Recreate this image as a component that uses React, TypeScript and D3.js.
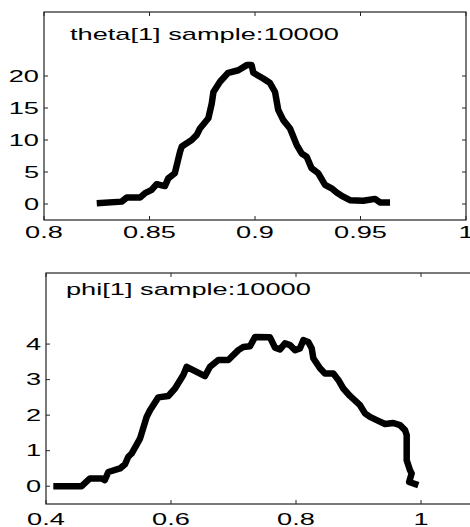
import React from "react";
import * as d3 from "d3";

const thetaX = [0.825,0.8368,0.8392,0.8455,0.8479,0.851,0.8534,0.8573,0.8589,0.862,0.8645,0.8653,0.870,0.8724,0.8739,0.8779,0.8795,0.8803,0.8834,0.8873,0.8921,0.8961,0.8984,0.8992,0.9039,0.9071,0.9095,0.911,0.9134,0.9166,0.9198,0.9221,0.9245,0.9268,0.93,0.9332,0.9363,0.9387,0.9418,0.945,0.9513,0.9569,0.9592,0.964];
const thetaY = [0.1,0.37,1.0,1.0,1.7,2.2,3.1,2.8,4.0,4.8,8.2,9.0,10.0,10.8,11.8,13.4,15.7,17.5,19.1,20.5,20.9,21.7,21.7,20.5,19.6,18.9,17.5,14.7,13.1,11.8,9.2,7.9,7.4,5.6,4.8,3.0,2.45,1.8,1.15,0.6,0.5,0.8,0.25,0.25];

const phiX = [0.4117,0.457,0.4704,0.489,0.494,0.4997,0.5184,0.5264,0.5317,0.537,0.5504,0.561,0.5664,0.5797,0.5957,0.6064,0.6197,0.6251,0.6544,0.6624,0.6757,0.6917,0.7077,0.7157,0.7264,0.7344,0.7584,0.7664,0.7744,0.7824,0.7904,0.7984,0.8064,0.8117,0.8197,0.8251,0.8277,0.8384,0.8464,0.8597,0.8677,0.8757,0.8864,0.9024,0.9104,0.9184,0.9291,0.9424,0.9557,0.9664,0.9744,0.9771,0.9771,0.9824,0.9851,0.981,0.9957];
const phiY = [0,0,0.22,0.22,0.17,0.4,0.5,0.62,0.83,0.92,1.34,1.95,2.14,2.5,2.54,2.75,3.13,3.36,3.1,3.36,3.55,3.55,3.83,3.92,3.94,4.2,4.19,3.9,3.85,4.02,3.97,3.83,3.88,4.11,4.06,3.88,3.6,3.32,3.17,3.17,2.99,2.75,2.54,2.28,2.05,1.95,1.86,1.75,1.78,1.72,1.58,1.44,0.73,0.45,0.36,0.12,0.03];

const thetaXTicks = [0.8, 0.85, 0.9, 0.95, 1];
const thetaXTickLabels = ["0.8", "0.85", "0.9", "0.95", "1"];
const thetaYTicks = [0, 5, 10, 15, 20];
const phiXTicks = [0.4, 0.6, 0.8, 1];
const phiXTickLabels = ["0.4", "0.6", "0.8", "1"];
const phiYTicks = [0, 1, 2, 3, 4];

const thetaTitle = "theta[1] sample:10000";
const phiTitle = "phi[1] sample:10000";

const SX = 1.7;
const FONT = "'Liberation Sans', Arial, Helvetica, sans-serif";

type PanelProps = {
  left: number; right: number; top: number; bottom: number;
  xDomain: [number, number]; yDomain: [number, number];
  xs: number[]; ys: number[];
  xTicks: number[]; xTickLabels: string[]; yTicks: number[];
  title: string; titleX: number; titleY: number; xLabelOffset: number;
};

function Panel(p: PanelProps) {
  const x = d3.scaleLinear().domain(p.xDomain).range([p.left, p.right]);
  const y = d3.scaleLinear().domain(p.yDomain).range([p.bottom, p.top]);
  const pts = p.xs.map((v, i) => [v, p.ys[i]] as [number, number]);
  const line = d3.line<[number, number]>().x(d => x(d[0])).y(d => y(d[1]));
  const tl = 4;
  const frame = "#222";
  return (
    <g>
      <path d={line(pts) || ""} fill="none" stroke="#000" strokeWidth={6.5} strokeLinejoin="round" strokeLinecap="butt" />
      <rect x={p.left} y={p.top} width={p.right - p.left} height={p.bottom - p.top} fill="none" stroke={frame} strokeWidth={1.2} />
      {p.xTicks.map((t, i) => (
        <g key={"xt" + i}>
          <line x1={x(t)} x2={x(t)} y1={p.bottom} y2={p.bottom - tl} stroke={frame} strokeWidth={1} />
          <line x1={x(t)} x2={x(t)} y1={p.top} y2={p.top + tl} stroke={frame} strokeWidth={1} />
          <text transform={`translate(${x(t)},${p.bottom + p.xLabelOffset}) scale(${SX},1)`} textAnchor="middle" fontSize={16} fontFamily={FONT} fill="#000">{p.xTickLabels[i]}</text>
        </g>
      ))}
      {p.yTicks.map((t, i) => (
        <g key={"yt" + i}>
          <line x1={p.left} x2={p.left + tl} y1={y(t)} y2={y(t)} stroke={frame} strokeWidth={1} />
          <line x1={p.right} x2={p.right - tl} y1={y(t)} y2={y(t)} stroke={frame} strokeWidth={1} />
          <text transform={`translate(${p.left - 5},${y(t) + 5.8}) scale(${SX},1)`} textAnchor="end" fontSize={16} fontFamily={FONT} fill="#000">{String(t)}</text>
        </g>
      ))}
      <text transform={`translate(${p.titleX},${p.titleY}) scale(${SX},1)`} fontSize={16} fontFamily={FONT} fill="#000">{p.title}</text>
    </g>
  );
}

export default function App() {
  return (
    <svg width={470} height={527} style={{ position: "absolute", left: 0, top: 0, background: "#fff" }}>
      <rect x={0} y={0} width={470} height={527} fill="#fff" />
      <Panel left={44} right={466} top={12} bottom={220} xDomain={[0.8, 1]} yDomain={[-2.5, 30]}
        xs={thetaX} ys={thetaY} xTicks={thetaXTicks} xTickLabels={thetaXTickLabels} yTicks={thetaYTicks}
        title={thetaTitle} titleX={70} titleY={40} xLabelOffset={18} />
      <Panel left={46} right={546} top={273} bottom={504} xDomain={[0.4, 1.2]} yDomain={[-0.5, 6]}
        xs={phiX} ys={phiY} xTicks={phiXTicks} xTickLabels={phiXTickLabels} yTicks={phiYTicks}
        title={phiTitle} titleX={66} titleY={295} xLabelOffset={21} />
    </svg>
  );
}
